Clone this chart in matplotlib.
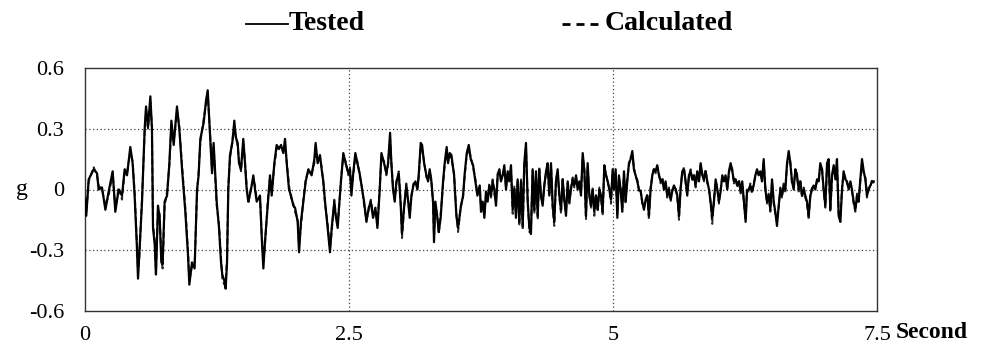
import numpy as np
import matplotlib
matplotlib.use("Agg")
import matplotlib.pyplot as plt
from matplotlib.lines import Line2D

# ---------------- data ----------------
# strong-motion part, 0 - 1.25 s
time_a = [0.0, 0.012, 0.035, 0.082, 0.114, 0.129, 0.161, 0.193, 0.224, 0.262,
          0.287, 0.319, 0.350, 0.376, 0.398, 0.429, 0.451, 0.470, 0.492, 0.502,
          0.515, 0.540, 0.565, 0.578, 0.597, 0.619, 0.634, 0.644, 0.660, 0.672,
          0.691, 0.707, 0.723, 0.735, 0.754, 0.777, 0.799, 0.818, 0.840, 0.871,
          0.893, 0.919, 0.950, 0.975, 0.988, 1.013, 1.038, 1.061, 1.076, 1.092,
          1.124, 1.146, 1.162, 1.181, 1.203, 1.218]
tested_a = [-0.05, -0.13, 0.05, 0.10, 0.08, 0.00, 0.01, -0.10, -0.01, 0.09,
            -0.11, 0.00, -0.03, 0.10, 0.07, 0.21, 0.13, -0.03, -0.29, -0.44,
            -0.31, -0.06, 0.30, 0.41, 0.31, 0.46, 0.30, -0.19, -0.27, -0.42,
            -0.08, -0.14, -0.36, -0.37, -0.06, -0.03, 0.13, 0.34, 0.22, 0.41,
            0.30, 0.10, -0.11, -0.32, -0.47, -0.36, -0.39, 0.00, 0.07, 0.25,
            0.33, 0.44, 0.49, 0.30, 0.08, 0.23]
calc_a = [-0.03, -0.11, 0.04, 0.11, 0.07, 0.02, 0.00, -0.08, -0.03, 0.08,
          -0.09, 0.01, -0.05, 0.09, 0.08, 0.19, 0.14, -0.01, -0.27, -0.41,
          -0.33, -0.04, 0.28, 0.38, 0.30, 0.43, 0.31, -0.17, -0.25, -0.40,
          -0.10, -0.12, -0.34, -0.39, -0.08, -0.01, 0.12, 0.32, 0.24, 0.39,
          0.31, 0.12, -0.09, -0.30, -0.45, -0.38, -0.37, -0.02, 0.09, 0.23,
          0.35, 0.42, 0.47, 0.31, 0.10, 0.21]

# 1.25 - 2.5 s
time_b = [1.247, 1.269, 1.288, 1.300, 1.319, 1.332, 1.345, 1.357, 1.373, 1.395,
          1.414, 1.427, 1.446, 1.458, 1.477, 1.499, 1.515, 1.531, 1.547, 1.572,
          1.594, 1.610, 1.626, 1.657, 1.673, 1.689, 1.704, 1.730, 1.752, 1.768,
          1.793, 1.815, 1.837, 1.856, 1.878, 1.894, 1.910, 1.932, 1.951, 1.973,
          1.989, 2.014, 2.027, 2.045, 2.068, 2.090, 2.115, 2.146, 2.172, 2.184,
          2.203, 2.225, 2.241, 2.257, 2.273, 2.298, 2.320, 2.336, 2.361, 2.374,
          2.393, 2.405, 2.424, 2.446, 2.468, 2.494, 2.509]
tested_b = [-0.06, -0.19, -0.36, -0.42, -0.45, -0.49, -0.36, 0.00, 0.17, 0.23,
            0.34, 0.26, 0.23, 0.13, 0.10, 0.25, 0.13, 0.00, -0.06, 0.00,
            0.07, 0.00, -0.06, -0.03, -0.23, -0.39, -0.26, -0.08, 0.07, -0.03,
            0.13, 0.22, 0.20, 0.22, 0.18, 0.25, 0.13, 0.00, -0.03, -0.08,
            -0.09, -0.16, -0.31, -0.16, -0.06, 0.04, 0.10, 0.07, 0.15, 0.23,
            0.13, 0.17, 0.10, 0.04, -0.06, -0.19, -0.31, -0.19, -0.06, -0.13,
            -0.19, -0.09, 0.04, 0.18, 0.13, 0.08, 0.10]
calc_b = [-0.08, -0.17, -0.34, -0.44, -0.47, -0.46, -0.34, 0.02, 0.15, 0.24,
          0.31, 0.27, 0.21, 0.15, 0.09, 0.23, 0.14, 0.02, -0.07, 0.01,
          0.05, 0.02, -0.05, -0.04, -0.21, -0.36, -0.28, -0.06, 0.06, -0.01,
          0.12, 0.20, 0.21, 0.20, 0.19, 0.23, 0.14, 0.02, -0.04, -0.07,
          -0.11, -0.15, -0.28, -0.18, -0.05, 0.05, 0.09, 0.08, 0.13, 0.21,
          0.14, 0.16, 0.11, 0.03, -0.07, -0.17, -0.29, -0.21, -0.05, -0.12,
          -0.17, -0.10, 0.05, 0.16, 0.14, 0.07, 0.11]

# 2.5 - 3.75 s
time_c = [2.523, 2.538, 2.560, 2.579, 2.601, 2.624, 2.643, 2.665, 2.687, 2.706,
          2.728, 2.750, 2.769, 2.791, 2.807, 2.832, 2.854, 2.870, 2.889, 2.901,
          2.917, 2.933, 2.949, 2.971, 2.990, 3.002, 3.021, 3.043, 3.059, 3.075,
          3.091, 3.110, 3.129, 3.148, 3.160, 3.179, 3.192, 3.211, 3.233, 3.249,
          3.264, 3.280, 3.296, 3.305, 3.318, 3.337, 3.350, 3.368, 3.391, 3.406,
          3.425, 3.438, 3.454, 3.470, 3.495, 3.517, 3.533, 3.558, 3.580, 3.596,
          3.615, 3.634, 3.653, 3.675, 3.697, 3.716, 3.738]
tested_c = [-0.03, 0.07, 0.18, 0.13, 0.08, 0.00, -0.06, -0.16, -0.09, -0.06,
            -0.14, -0.09, -0.19, 0.00, 0.18, 0.13, 0.08, 0.13, 0.28, 0.13,
            0.00, -0.06, 0.04, 0.08, -0.08, -0.22, -0.09, 0.02, -0.05, -0.14,
            -0.03, 0.02, 0.04, 0.00, 0.07, 0.23, 0.22, 0.13, 0.07, 0.04,
            0.10, 0.04, -0.06, -0.26, -0.06, -0.14, -0.21, -0.14, 0.04, 0.13,
            0.21, 0.13, 0.18, 0.17, 0.07, -0.13, -0.19, -0.09, -0.03, 0.08,
            0.18, 0.22, 0.15, 0.12, 0.04, -0.03, 0.02]
calc_c = [-0.01, 0.06, 0.16, 0.14, 0.07, 0.01, -0.08, -0.15, -0.10, -0.05,
          -0.12, -0.10, -0.17, 0.01, 0.16, 0.14, 0.07, 0.12, 0.25, 0.14,
          0.01, -0.05, 0.03, 0.09, -0.07, -0.24, -0.10, 0.03, -0.06, -0.12,
          -0.04, 0.03, 0.03, 0.01, 0.06, 0.21, 0.20, 0.14, 0.06, 0.05,
          0.09, 0.05, -0.07, -0.23, -0.08, -0.13, -0.22, -0.12, 0.03, 0.12,
          0.19, 0.14, 0.17, 0.15, 0.08, -0.12, -0.21, -0.08, -0.04, 0.07,
          0.17, 0.20, 0.16, 0.11, 0.05, -0.02, 0.01]

# 3.75 - 5.0 s
time_d = [3.750, 3.766, 3.782, 3.797, 3.813, 3.829, 3.845, 3.860, 3.876, 3.892,
          3.908, 3.924, 3.939, 3.955, 3.971, 3.987, 4.003, 4.018, 4.034, 4.050,
          4.066, 4.081, 4.097, 4.113, 4.129, 4.145, 4.160, 4.176, 4.192, 4.208,
          4.223, 4.239, 4.255, 4.271, 4.287, 4.302, 4.318, 4.334, 4.350, 4.366,
          4.381, 4.397, 4.413, 4.429, 4.444, 4.460, 4.476, 4.492, 4.508, 4.523,
          4.539, 4.555, 4.571, 4.587, 4.602, 4.618, 4.634, 4.650, 4.665, 4.681,
          4.697, 4.713, 4.729, 4.744, 4.760, 4.776, 4.792, 4.807, 4.823, 4.839,
          4.855, 4.871, 4.886, 4.902, 4.918, 4.934, 4.950, 4.965, 4.981, 4.997]
tested_d = [-0.11, -0.06, -0.14, -0.01, -0.06, 0.02, -0.03, 0.04, 0.00, -0.08,
            0.07, 0.10, 0.04, 0.07, 0.12, 0.00, 0.09, 0.04, 0.12, -0.10,
            0.00, -0.14, 0.05, -0.16, 0.04, -0.18, 0.13, 0.23, -0.06, -0.19,
            -0.22, 0.10, -0.10, 0.09, -0.13, 0.10, -0.03, -0.08, 0.02, 0.09,
            0.13, -0.03, 0.13, -0.08, -0.16, 0.04, 0.10, -0.03, -0.10, 0.05,
            -0.05, -0.13, 0.04, -0.06, 0.00, 0.05, 0.02, 0.07, 0.00, 0.04,
            -0.03, 0.18, 0.09, -0.13, 0.13, -0.03, -0.08, 0.00, -0.11, -0.03,
            -0.10, 0.00, -0.03, -0.11, 0.12, 0.07, 0.04, 0.00, -0.05, 0.10]
calc_d = [-0.09, -0.08, -0.12, -0.03, -0.05, 0.03, -0.04, 0.05, -0.02, -0.06,
          0.08, 0.09, 0.05, 0.06, 0.10, 0.01, 0.08, 0.05, 0.10, -0.12,
          0.02, -0.12, 0.04, -0.18, 0.05, -0.20, 0.11, 0.21, -0.04, -0.21,
          -0.20, 0.09, -0.12, 0.08, -0.15, 0.11, -0.04, -0.07, 0.03, 0.08,
          0.11, -0.02, 0.12, -0.10, -0.18, 0.05, 0.09, -0.04, -0.12, 0.06,
          -0.06, -0.11, 0.03, -0.07, 0.01, 0.06, 0.01, 0.06, 0.01, 0.03,
          -0.02, 0.16, 0.10, -0.15, 0.11, -0.02, -0.09, 0.01, -0.13, -0.02,
          -0.11, 0.01, -0.04, -0.13, 0.10, 0.08, 0.03, 0.01, -0.07, 0.09]

# 5.0 - 6.25 s
time_e = [5.009, 5.025, 5.041, 5.056, 5.072, 5.088, 5.104, 5.119, 5.135, 5.151,
          5.167, 5.183, 5.198, 5.214, 5.230, 5.246, 5.262, 5.277, 5.293, 5.309,
          5.325, 5.340, 5.356, 5.372, 5.388, 5.404, 5.419, 5.435, 5.451, 5.467,
          5.482, 5.498, 5.514, 5.530, 5.546, 5.561, 5.577, 5.593, 5.609, 5.625,
          5.640, 5.656, 5.672, 5.688, 5.703, 5.719, 5.735, 5.751, 5.767, 5.782,
          5.798, 5.814, 5.830, 5.846, 5.861, 5.877, 5.893, 5.909, 5.924, 5.940,
          5.956, 5.972, 5.988, 6.003, 6.019, 6.035, 6.051, 6.066, 6.082, 6.098,
          6.114, 6.130, 6.145, 6.161, 6.177, 6.193, 6.209, 6.224, 6.240, 6.256]
tested_e = [0.00, 0.10, -0.14, 0.07, 0.00, -0.11, 0.09, -0.06, 0.04, 0.13,
            0.15, 0.19, 0.10, 0.07, 0.04, 0.00, -0.01, -0.06, -0.10, -0.05,
            -0.03, -0.13, 0.00, 0.07, 0.10, 0.09, 0.12, 0.07, 0.04, 0.05,
            0.00, 0.04, -0.03, 0.00, -0.05, -0.01, 0.02, 0.00, -0.03, -0.13,
            0.00, 0.09, 0.10, 0.04, -0.03, 0.07, 0.09, 0.05, 0.07, 0.02,
            0.09, 0.04, 0.13, 0.07, 0.05, 0.09, 0.04, 0.00, -0.06, -0.14,
            -0.06, 0.05, 0.00, -0.06, -0.01, 0.07, 0.04, 0.07, 0.00, 0.09,
            0.13, 0.09, 0.04, 0.05, 0.02, 0.04, -0.01, 0.04, -0.06, -0.16]
calc_e = [0.02, 0.08, -0.12, 0.06, 0.01, -0.09, 0.08, -0.07, 0.05, 0.12,
          0.16, 0.17, 0.11, 0.06, 0.05, -0.01, 0.00, -0.07, -0.09, -0.06,
          -0.02, -0.15, 0.01, 0.06, 0.11, 0.08, 0.11, 0.08, 0.03, 0.06,
          0.01, 0.03, -0.04, 0.01, -0.06, 0.00, 0.01, 0.01, -0.04, -0.15,
          0.01, 0.08, 0.11, 0.03, -0.02, 0.06, 0.10, 0.04, 0.08, 0.01,
          0.08, 0.05, 0.12, 0.08, 0.04, 0.10, 0.03, 0.01, -0.07, -0.17,
          -0.05, 0.04, 0.01, -0.07, 0.00, 0.06, 0.05, 0.06, 0.01, 0.08,
          0.12, 0.10, 0.03, 0.06, 0.01, 0.05, -0.02, 0.03, -0.07, -0.15]

# 6.25 - 7.5 s
time_f = [6.269, 6.285, 6.301, 6.316, 6.332, 6.348, 6.364, 6.379, 6.395, 6.411,
          6.427, 6.443, 6.458, 6.474, 6.490, 6.506, 6.522, 6.537, 6.553, 6.569,
          6.585, 6.600, 6.616, 6.632, 6.648, 6.664, 6.679, 6.695, 6.711, 6.727,
          6.742, 6.758, 6.774, 6.790, 6.806, 6.821, 6.837, 6.853, 6.869, 6.885,
          6.900, 6.916, 6.932, 6.948, 6.963, 6.979, 6.995, 7.011, 7.027, 7.042,
          7.058, 7.074, 7.090, 7.106, 7.121, 7.137, 7.153, 7.169, 7.184, 7.200,
          7.216, 7.232, 7.248, 7.263, 7.279, 7.295, 7.311, 7.326, 7.342, 7.358,
          7.374, 7.390, 7.405, 7.421, 7.437, 7.453, 7.469]
tested_f = [-0.01, 0.00, 0.02, -0.01, 0.02, 0.07, 0.10, 0.07, 0.09, 0.04,
            0.15, 0.00, -0.06, -0.03, -0.10, 0.05, -0.06, -0.11, -0.18, -0.08,
            0.00, -0.03, 0.02, 0.00, 0.13, 0.19, 0.13, 0.04, 0.00, 0.10,
            0.07, 0.00, 0.04, -0.03, 0.00, -0.03, -0.06, -0.13, -0.03, 0.00,
            0.02, 0.00, 0.05, 0.04, 0.13, 0.10, 0.00, -0.08, 0.13, 0.15,
            -0.10, 0.07, 0.12, 0.05, 0.15, -0.13, -0.16, 0.00, 0.09, 0.05,
            0.04, 0.00, 0.04, 0.00, -0.06, -0.10, -0.03, -0.06, 0.05, 0.15,
            0.09, 0.05, -0.03, 0.00, 0.02, 0.04, 0.04]
calc_f = [0.00, -0.01, 0.03, -0.02, 0.03, 0.06, 0.09, 0.08, 0.08, 0.05,
          0.13, 0.01, -0.07, -0.02, -0.11, 0.04, -0.07, -0.12, -0.16, -0.09,
          0.01, -0.04, 0.03, -0.01, 0.12, 0.17, 0.14, 0.03, 0.01, 0.09,
          0.08, -0.01, 0.05, -0.04, 0.01, -0.04, -0.07, -0.15, -0.02, 0.01,
          0.01, 0.01, 0.04, 0.05, 0.12, 0.11, -0.01, -0.09, 0.12, 0.14,
          -0.11, 0.06, 0.11, 0.06, 0.13, -0.12, -0.14, 0.01, 0.08, 0.06,
          0.03, 0.01, 0.03, -0.01, -0.07, -0.11, -0.02, -0.07, 0.04, 0.13,
          0.08, 0.06, -0.04, 0.01, 0.01, 0.05, 0.03]

x_ticks = [0, 2.5, 5, 7.5]
x_tick_labels = ["0", "2.5", "5", "7.5"]
y_ticks = [-0.6, -0.3, 0, 0.3, 0.6]
y_tick_labels = ["-0.6", "-0.3", "0", "0.3", "0.6"]
series_names = ["Tested", "Calculated"]

time_s = np.concatenate([time_a, time_b, time_c, time_d, time_e, time_f])
tested_g = np.concatenate([tested_a, tested_b, tested_c, tested_d, tested_e, tested_f])
calc_g = np.concatenate([calc_a, calc_b, calc_c, calc_d, calc_e, calc_f])

# ---------------- figure ----------------
W, H = 984, 346
fig = plt.figure(figsize=(W / 100, H / 100), dpi=100)
serif = ["Liberation Serif", "DejaVu Serif"]

left, right, top, bottom = 85, 877, 68, 311
ax = fig.add_axes([left / W, 1 - bottom / H, (right - left) / W, (bottom - top) / H])

ax.plot(time_s, calc_g, color="#2a2a2a", lw=1.4, ls=(0, (3, 1.5)), zorder=3)
ax.plot(time_s, tested_g, color="black", lw=1.6, zorder=4)

ax.set_xlim(0, 7.5)
ax.set_ylim(-0.6, 0.6)

for yv in [-0.3, 0, 0.3]:
    ax.axhline(yv, color="#444444", lw=0.9, ls=(0, (1, 2)), zorder=1)
for xv in [2.5, 5]:
    ax.axvline(xv, color="#444444", lw=0.9, ls=(0, (1, 2)), zorder=1)

ax.set_xticks(x_ticks)
ax.set_xticklabels(x_tick_labels, fontfamily=serif, fontsize=16)
ax.set_yticks(y_ticks)
ax.set_yticklabels(y_tick_labels, fontfamily=serif, fontsize=16)
ax.tick_params(axis="both", length=0)
ax.tick_params(axis="x", pad=11)
ax.tick_params(axis="y", pad=15)
for sp in ax.spines.values():
    sp.set_color("#333333")
    sp.set_linewidth(1.0)

fig.text(22 / W, 1 - 189 / H, "g", fontfamily=serif, fontsize=17,
         ha="center", va="center")
fig.text(896 / W, 1 - 333 / H, "Second", fontfamily=serif, fontsize=17,
         fontweight="bold", ha="left", va="center")

# legend (drawn in figure coordinates)
ly = 1 - 24 / H
fig.add_artist(Line2D([246 / W, 288 / W], [ly, ly], transform=fig.transFigure,
                      color="black", lw=1.3))
fig.text(289 / W, ly, series_names[0], fontfamily=serif, fontsize=20,
         fontweight="bold", ha="left", va="center")
for x0 in (562, 576, 590):
    fig.add_artist(Line2D([x0 / W, (x0 + 8) / W], [ly, ly],
                          transform=fig.transFigure, color="black", lw=2.0,
                          solid_capstyle="butt"))
fig.text(605 / W, ly, series_names[1], fontfamily=serif, fontsize=20,
         fontweight="bold", ha="left", va="center")

fig.savefig("out.png", dpi=100)
